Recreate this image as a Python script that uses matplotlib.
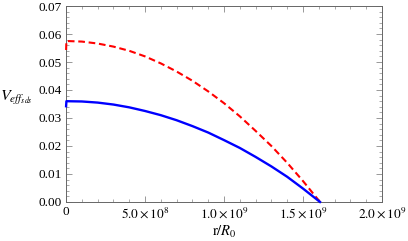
import matplotlib
matplotlib.use("Agg")
import matplotlib.pyplot as plt
import numpy as np
from matplotlib.ticker import MultipleLocator, FixedLocator

plt.rcParams['font.family'] = ['Liberation Serif', 'DejaVu Serif']
plt.rcParams['mathtext.fontset'] = 'stix'

# radius values (in units of R_0)
r = [0, 2e6, 1e8, 2e8, 3e8, 4e8, 5e8, 6e8, 7e8, 8e8, 9e8,
     1.0e9, 1.1e9, 1.2e9, 1.3e9, 1.4e9, 1.5e9, 1.608e9]

v_red = [0.0543, 0.0575, 0.0573, 0.0566, 0.0555, 0.0540, 0.0520, 0.0495, 0.0466,
         0.0433, 0.0395, 0.0353, 0.0306, 0.0254, 0.0200, 0.0140, 0.0075, 0.0]
v_blue = [0.0342, 0.0360, 0.0359, 0.0355, 0.0348, 0.0338, 0.0325, 0.0310, 0.0292,
          0.0271, 0.0248, 0.0221, 0.0193, 0.0161, 0.0127, 0.0090, 0.0048, 0.0]

xticks = [0, 5e8, 1e9, 1.5e9, 2e9]
xtick_labels = ['0', r'$5.0\times10^{8}$', r'$1.0\times10^{9}$',
                r'$1.5\times10^{9}$', r'$2.0\times10^{9}$']
yticks = [0.00, 0.01, 0.02, 0.03, 0.04, 0.05, 0.06, 0.07]

fig = plt.figure(figsize=(4.08, 2.41), dpi=100)
ax = fig.add_axes([0.162, 0.162, 0.774, 0.813])

ax.plot(r, v_red, color=(1, 0, 0), lw=1.5, ls=(0, (3.2, 1.8)), clip_on=False, zorder=3)
ax.plot(r, v_blue, color=(0, 0, 1), lw=1.7, clip_on=False, zorder=3)

ax.set_xlim(0, 2e9)
ax.set_ylim(0, 0.07)
ax.xaxis.set_major_locator(FixedLocator(xticks))
ax.set_xticklabels(xtick_labels)
ax.xaxis.set_minor_locator(MultipleLocator(1e8))
ax.yaxis.set_major_locator(FixedLocator(yticks))
ax.set_yticklabels(['%.2f' % y for y in yticks])
ax.yaxis.set_minor_locator(MultipleLocator(0.002))

ax.tick_params(which='both', direction='in', top=True, right=True,
               color='#888888', labelsize=9.5, pad=3)
ax.tick_params(which='major', length=4, width=0.6)
ax.tick_params(which='minor', length=2, width=0.5)
for s in ax.spines.values():
    s.set_color('#666666')
    s.set_linewidth(0.7)

ax.set_xlabel(r'$\mathrm{r}/R_0$', fontsize=10.5, labelpad=2)
fig.text(0.0, 0.595, r'$V_{\mathit{eff}_{sds}}$', fontsize=11.5, ha='left', va='center')

fig.savefig("out.png", dpi=100)
